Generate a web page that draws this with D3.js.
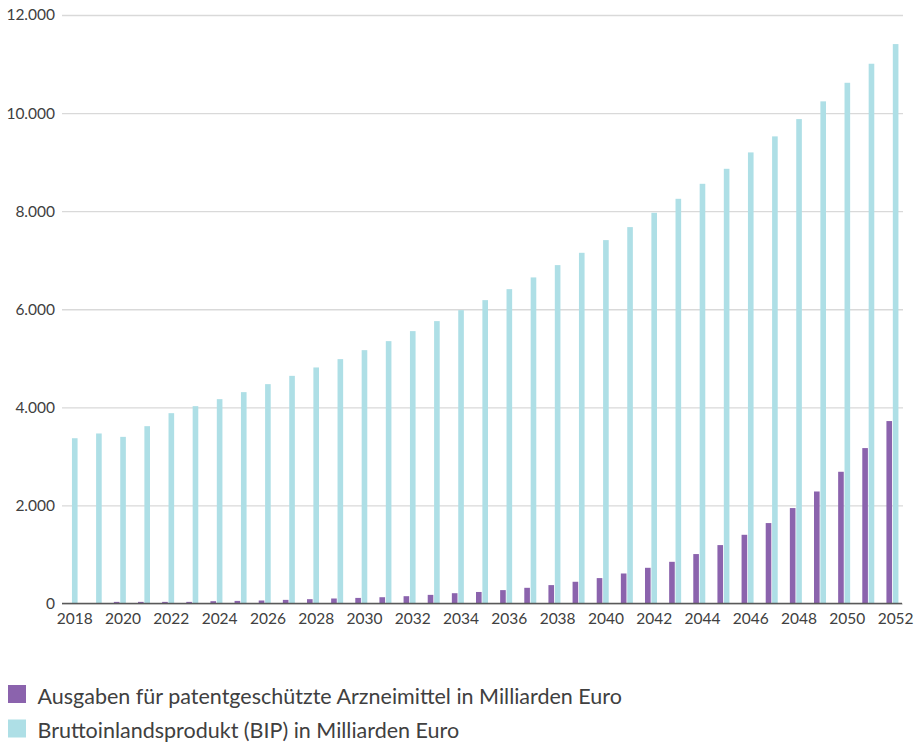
<!DOCTYPE html>
<html>
<head>
<meta charset="utf-8">
<script src="https://cdn.jsdelivr.net/npm/d3@7"></script>
<style>
	body { margin: 0; background: #fff; }
	text { font-family: Lato, "Open Sans", sans-serif; fill: #404040; }
</style>
</head>
<body>
<script>

// data (Milliarden Euro)
var years = d3.range(2018, 2053)

var pharma = [
	0, 0, 33, 33, 33, 33, 47, 53, 61, 74,
	88, 102, 114, 128, 149, 176, 210, 235, 273, 320,
	375, 443, 518, 612, 728, 850, 1008, 1191, 1401, 1640,
	1946, 2284, 2686, 3169, 3720
]

var bip = [
	3370, 3467, 3398, 3616, 3881, 4024, 4167, 4310, 4473, 4642,
	4813, 4983, 5166, 5350, 5554, 5758, 5982, 6186, 6410, 6649,
	6900, 7151, 7410, 7675, 7967, 8252, 8558, 8864, 9198, 9525,
	9878, 10239, 10618, 11006, 11407
]

var yTicks = [0, 2000, 4000, 6000, 8000, 10000, 12000]
var xTicks = years.filter(d => d % 2 === 0)

var seriesNames = [
	'Ausgaben für patentgeschützte Arzneimittel in Milliarden Euro',
	'Bruttoinlandsprodukt (BIP) in Milliarden Euro'
]
var colors = ['#8b63ad', '#aedfe6']

var width = 922
var height = 744

var svg = d3.select('body')
	.append('svg')
	.attr('width', width)
	.attr('height', height)

var de = d3.formatLocale({ decimal : ',', thousands : '.', grouping : [3], currency : ['', ' €'] })

var xScale = d3.scaleBand()
	.domain(years)
	.range([59.5, 904.5])
	.padding(0)

var subScale = d3.scaleBand()
	.domain(['pharma', 'bip'])
	.range([xScale.bandwidth() / 2 - 6, xScale.bandwidth() / 2 + 6])
	.paddingInner(0.12)

var yScale = d3.scaleLinear()
	.domain([0, 12000])
	.range([603.5, 15])

// grid + y labels
var yAxis = svg.append('g')
	.attr('transform', 'translate(62, 0)')
	.call(d3.axisLeft(yScale)
		.tickValues(yTicks)
		.tickSize(-841)
		.tickPadding(7)
		.tickFormat(de.format(',')))

yAxis.select('.domain').remove()
yAxis.selectAll('.tick line')
	.attr('stroke', '#d9d9d9')
	.attr('stroke-width', 1.3)
yAxis.selectAll('.tick text')
	.style('font-size', '15.5px')

// bars
var rows = years.map((year, i) => ({ year, pharma : pharma[i], bip : bip[i] }))

var groups = svg.append('g')
	.selectAll('g')
	.data(rows)
	.enter()
	.append('g')
	.attr('transform', d => `translate(${xScale(d.year)}, 0)`)

groups.selectAll('rect')
	.data(d => [
		{ key : 'pharma', value : d.pharma, color : colors[0] },
		{ key : 'bip', value : d.bip, color : colors[1] }
	])
	.enter()
	.append('rect')
	.attr('x', d => subScale(d.key))
	.attr('width', subScale.bandwidth())
	.attr('y', d => yScale(d.value))
	.attr('height', d => yScale(0) - yScale(d.value))
	.attr('fill', d => d.color)

// baseline
svg.append('line')
	.attr('x1', 62)
	.attr('x2', 902)
	.attr('y1', yScale(0))
	.attr('y2', yScale(0))
	.attr('stroke', '#595959')
	.attr('stroke-width', 1.5)

// x labels sit under the BIP bar of each year
var labelShift = subScale('bip') + subScale.bandwidth() / 2 - xScale.bandwidth() / 2

var xAxis = svg.append('g')
	.attr('transform', `translate(${labelShift}, ${yScale(0)})`)
	.call(d3.axisBottom(xScale)
		.tickValues(xTicks)
		.tickSize(0)
		.tickPadding(9))

xAxis.select('.domain').remove()
xAxis.selectAll('.tick text')
	.style('font-size', '15.5px')

// legend
var legend = svg.append('g')
	.selectAll('g')
	.data(seriesNames)
	.enter()
	.append('g')
	.attr('transform', (d, i) => `translate(8, ${685 + i * 34.5})`)

legend.append('rect')
	.attr('width', 18)
	.attr('height', 18)
	.attr('fill', (d, i) => colors[i])

legend.append('text')
	.attr('x', 29.5)
	.attr('y', 18.5)
	.style('font-size', '21.5px')
	.text(d => d)

</script>
</body>
</html>
